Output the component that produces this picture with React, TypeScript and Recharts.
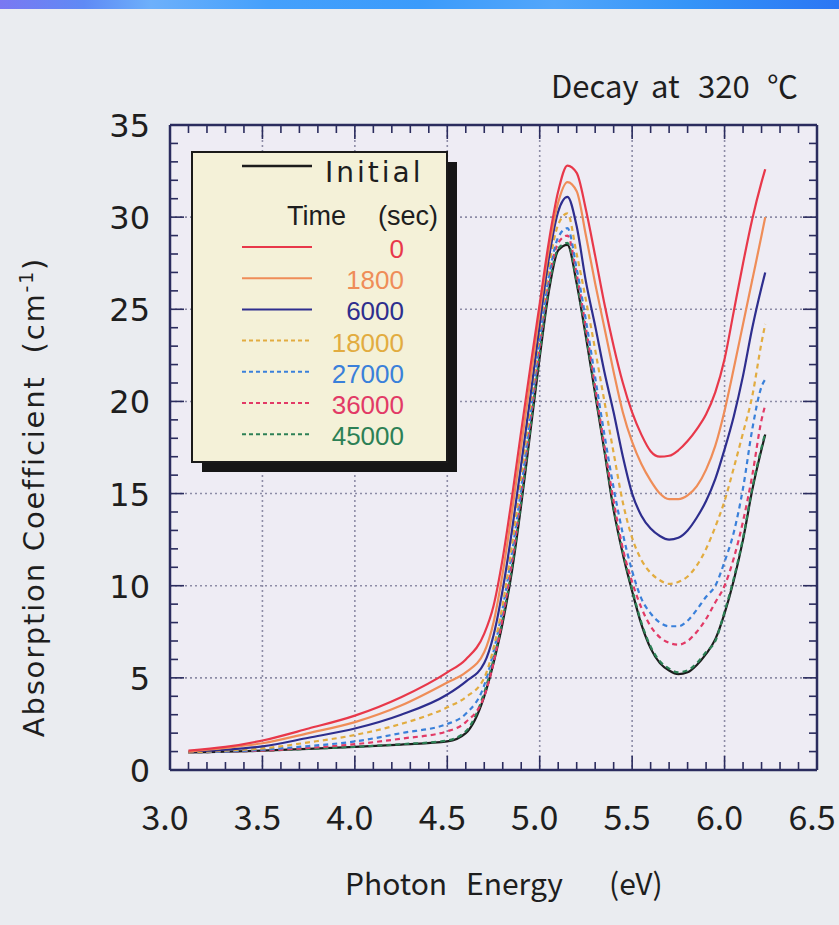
import React from 'react';
import { LineChart, Line, XAxis, YAxis, CartesianGrid } from 'recharts';

// ---- data ----
const energy = [3.1, 3.3, 3.5, 3.75, 4.0, 4.25, 4.5, 4.6, 4.7, 4.75, 4.8, 4.85, 4.9, 4.95, 5.0, 5.05, 5.1, 5.15, 5.2, 5.25, 5.3, 5.35, 5.4, 5.45, 5.5, 5.55, 5.6, 5.65, 5.7, 5.75, 5.8, 5.85, 5.9, 5.95, 6.0, 6.05, 6.1, 6.15, 6.2, 6.22];

const initial = [0.95, 1.0, 1.05, 1.15, 1.25, 1.38, 1.55, 2.0, 4.0, 5.8, 8.0, 10.8, 14.4, 18.4, 22.4, 26.0, 28.2, 28.5, 26.4, 23.5, 20.4, 17.3, 14.1, 11.7, 9.7, 7.9, 6.6, 5.8, 5.4, 5.2, 5.3, 5.7, 6.3, 7.1, 8.5, 10.3, 12.5, 15.2, 17.4, 18.2];
const t0 = [1.05, 1.25, 1.6, 2.25, 2.95, 3.95, 5.3, 6.0, 7.4, 8.9, 11.5, 14.8, 18.4, 21.9, 25.3, 28.7, 31.4, 32.8, 32.4, 30.4, 27.9, 25.3, 23.0, 21.0, 19.4, 18.2, 17.3, 17.0, 17.05, 17.35, 17.85, 18.5, 19.3, 20.5, 22.3, 24.9, 27.5, 29.9, 31.9, 32.6];
const t1800 = [1.0, 1.2, 1.45, 2.0, 2.6, 3.5, 4.75, 5.3, 6.4, 8.0, 10.7, 14.0, 17.6, 21.2, 24.9, 28.3, 30.8, 31.9, 31.4, 29.0, 26.4, 24.0, 21.6, 19.4, 17.8, 16.6, 15.7, 15.0, 14.7, 14.7, 14.9, 15.4, 16.3, 17.6, 19.5, 21.8, 24.2, 26.6, 29.0, 30.0];
const t6000 = [1.0, 1.1, 1.28, 1.75, 2.25, 3.0, 4.1, 4.8, 5.8, 7.3, 9.8, 13.0, 16.6, 20.3, 24.2, 27.8, 30.3, 31.1, 29.5, 26.5, 24.1, 21.6, 19.4, 17.0, 15.0, 13.8, 13.1, 12.7, 12.5, 12.6, 13.0, 13.7, 14.6, 15.8, 17.4, 19.2, 21.4, 24.0, 26.2, 27.0];
const t18000 = [0.95, 1.05, 1.17, 1.5, 1.9, 2.5, 3.4, 3.95, 5.0, 6.6, 9.0, 12.2, 15.9, 19.8, 23.8, 27.3, 29.6, 30.2, 28.0, 25.5, 22.8, 20.0, 17.2, 14.5, 12.6, 11.4, 10.7, 10.3, 10.1, 10.2, 10.5, 11.1, 12.0, 13.2, 14.6, 16.4, 18.3, 20.3, 23.2, 24.2];
const t27000 = [0.95, 1.0, 1.1, 1.3, 1.55, 2.0, 2.5, 3.05, 4.6, 6.4, 8.8, 11.8, 15.3, 19.3, 23.3, 26.8, 28.9, 29.4, 27.2, 24.4, 21.3, 18.2, 15.3, 12.8, 10.8, 9.3, 8.5, 8.0, 7.8, 7.8, 8.1, 8.7, 9.4, 10.0, 11.3, 12.9, 15.3, 18.5, 20.8, 21.2];
const t36000 = [0.95, 1.0, 1.05, 1.2, 1.4, 1.7, 2.1, 2.6, 4.0, 5.8, 8.3, 11.3, 15.0, 19.0, 23.0, 26.6, 28.6, 29.0, 26.9, 24.0, 20.8, 17.6, 14.6, 12.0, 10.2, 8.8, 7.8, 7.2, 6.9, 6.8, 7.0, 7.5, 8.2, 9.1, 10.0, 11.5, 13.5, 16.0, 19.0, 19.8];
const t45000 = [0.95, 1.0, 1.04, 1.15, 1.26, 1.4, 1.6, 2.1, 4.2, 6.0, 8.2, 11.0, 14.6, 18.6, 22.6, 26.2, 28.3, 28.6, 26.5, 23.6, 20.5, 17.4, 14.2, 11.8, 9.8, 8.0, 6.7, 5.9, 5.5, 5.3, 5.4, 5.8, 6.4, 7.0, 8.6, 10.4, 12.6, 15.3, 17.5, 18.3];

const xMajorTicks = [3.0, 3.5, 4.0, 4.5, 5.0, 5.5, 6.0, 6.5];
const yMajorTicks = [0, 5, 10, 15, 20, 25, 30, 35];
const xMinorTicks = Array.from({ length: 36 }, (_, i) => Math.round((3.0 + i * 0.1) * 10) / 10);
const yMinorTicks = Array.from({ length: 36 }, (_, i) => i);

const series = [
  { key: 'initial', label: 'Initial', values: initial, color: '#1c1c1c', dash: undefined as string | undefined },
  { key: 't45000', label: '45000', values: t45000, color: '#2c8055', dash: '5 4' },
  { key: 't36000', label: '36000', values: t36000, color: '#e23a66', dash: '5 4' },
  { key: 't27000', label: '27000', values: t27000, color: '#3a80da', dash: '5 4' },
  { key: 't18000', label: '18000', values: t18000, color: '#e2ac40', dash: '5 4' },
  { key: 't6000', label: '6000', values: t6000, color: '#2e2e8e', dash: undefined },
  { key: 't1800', label: '1800', values: t1800, color: '#ef8d58', dash: undefined },
  { key: 't0', label: '0', values: t0, color: '#e8384a', dash: undefined },
];
const legendOrder = ['t0', 't1800', 't6000', 't18000', 't27000', 't36000', 't45000'];

const data = energy.map((e, i) => {
  const row: Record<string, number> = { e };
  series.forEach((s) => { row[s.key] = s.values[i]; });
  return row;
});

// ---- styles ----
const FRAME = '#2b2c5e';
const CJK = '"Noto Sans CJK JP", "Noto Sans", sans-serif';
const DEJAVU = '"DejaVu Sans", sans-serif';
const LIB = '"Liberation Sans", Arial, sans-serif';
const TEXT = '#1e1e1e';

const isMajor = (v: number, step: number) => Math.abs(v / step - Math.round(v / step)) < 1e-6;

const BottomTick = (props: any) => {
  const { x, y, payload } = props;
  const v = payload.value as number;
  const major = isMajor(v, 0.5);
  return (
    <g>
      <line x1={x} y1={y} x2={x} y2={y - (major ? 14 : 8)} stroke={FRAME} strokeWidth={1.6} />
      {major && (
        <text x={x - 5} y={y + 60} textAnchor="middle" fontFamily={CJK} fontSize={34} fill={TEXT}>
          {v.toFixed(1)}
        </text>
      )}
    </g>
  );
};

const TopTick = (props: any) => {
  const { x, y, payload } = props;
  const major = isMajor(payload.value, 0.5);
  return <line x1={x} y1={y} x2={x} y2={y + (major ? 14 : 8)} stroke={FRAME} strokeWidth={1.6} />;
};

const LeftTick = (props: any) => {
  const { x, y, payload } = props;
  const v = payload.value as number;
  const major = isMajor(v, 5);
  return (
    <g>
      <line x1={x} y1={y} x2={x + (major ? 14 : 8)} y2={y} stroke={FRAME} strokeWidth={1.6} />
      {major && (
        <text x={x - 20} y={y + 12} textAnchor="end" fontFamily={DEJAVU} fontSize={32} fill={TEXT}>
          {v}
        </text>
      )}
    </g>
  );
};

const RightTick = (props: any) => {
  const { x, y, payload } = props;
  const major = isMajor(payload.value, 5);
  return <line x1={x} y1={y} x2={x - (major ? 14 : 8)} y2={y} stroke={FRAME} strokeWidth={1.6} />;
};

const Overlay = () => {
  const rowBase = 258;
  const rowStep = 31.2;
  const byKey: Record<string, (typeof series)[number]> = {};
  series.forEach((s) => { byKey[s.key] = s; });
  return (
    <svg width={839} height={925} style={{ position: 'absolute', left: 0, top: 0, pointerEvents: 'none' }}>
      {/* title */}
      <text fontFamily={CJK} fontSize={31} fill={TEXT} y={98}>
        <tspan x={551}>Decay</tspan>
        <tspan x={651}>at</tspan>
        <tspan x={698}>320</tspan>
        <tspan x={767}>℃</tspan>
      </text>
      {/* y label */}
      <text
        transform="rotate(-90 44 497)"
        x={44}
        y={497}
        textAnchor="middle"
        fontFamily={DEJAVU}
        fontSize={29}
        letterSpacing={1.8}
        fill={TEXT}
        style={{ whiteSpace: 'pre' }}
      >
        Absorption Coefficient  (cm<tspan dy={-11} fontSize={19}>-1</tspan><tspan dy={11}>)</tspan>
      </text>
      {/* x label */}
      <text fontFamily={CJK} fontSize={30} fill={TEXT} y={895}>
        <tspan x={345}>Photon</tspan>
        <tspan x={466}>Energy</tspan>
        <tspan x={609}>(eV)</tspan>
      </text>
      {/* legend */}
      <rect x={202} y={162} width={255} height={310} fill="#161616" />
      <rect x={192} y={152} width={255} height={310} fill="#f4f1d8" stroke="#1a1a1a" strokeWidth={2} />
      <line x1={242} y1={166} x2={312} y2={166} stroke={byKey.initial.color} strokeWidth={2.4} />
      <text x={325} y={182} fontFamily={DEJAVU} fontSize={28} letterSpacing={3} fill={TEXT}>Initial</text>
      <text x={287} y={225} fontFamily={LIB} fontSize={27} fill={TEXT}>Time</text>
      <text x={438} y={225} textAnchor="end" fontFamily={LIB} fontSize={27} fill={TEXT}>(sec)</text>
      {legendOrder.map((k, i) => {
        const s = byKey[k];
        const by = rowBase + i * rowStep;
        return (
          <g key={k}>
            <line x1={242} y1={by - 11} x2={312} y2={by - 11} stroke={s.color} strokeWidth={2} strokeDasharray={s.dash ? '4 3' : undefined} />
            <text x={404} y={by} textAnchor="end" fontFamily={LIB} fontSize={26} fill={s.color}>{s.label}</text>
          </g>
        );
      })}
    </svg>
  );
};

export default function App() {
  return (
    <div style={{ position: 'absolute', left: 0, top: 0, width: 839, height: 925, background: '#eaecf0', overflow: 'hidden' }}>
      <div style={{ position: 'absolute', left: 0, top: 0, width: 839, height: 9, background: 'linear-gradient(90deg, #7a78f2 0%, #5f8af5 10%, #6db0fb 18%, #44a0fc 32%, #3b9bfb 50%, #52a6fb 66%, #3494f8 82%, #2b76f4 100%)' }} />
      <LineChart width={839} height={925} data={data} margin={{ top: 124, right: 21, bottom: 154, left: 169 }}>
        <CartesianGrid
          fill="#eeecf4"
          stroke="#8d8ca6"
          strokeWidth={1.6}
          strokeDasharray="2 3"
          horizontalValues={yMajorTicks}
          verticalValues={xMajorTicks}
        />
        <XAxis
          dataKey="e"
          type="number"
          domain={[3.0, 6.5]}
          ticks={xMinorTicks}
          interval={0}
          height={1}
          tickSize={0}
          tickMargin={0}
          tickLine={false}
          tick={<BottomTick />}
          axisLine={{ stroke: FRAME, strokeWidth: 2.5 }}
          allowDataOverflow
        />
        <XAxis
          xAxisId="top"
          orientation="top"
          dataKey="e"
          type="number"
          domain={[3.0, 6.5]}
          ticks={xMinorTicks}
          interval={0}
          height={1}
          tickSize={0}
          tickMargin={0}
          tickLine={false}
          tick={<TopTick />}
          axisLine={{ stroke: FRAME, strokeWidth: 2.5 }}
          allowDataOverflow
        />
        <YAxis
          type="number"
          domain={[0, 35]}
          ticks={yMinorTicks}
          interval={0}
          width={1}
          tickSize={0}
          tickMargin={0}
          tickLine={false}
          tick={<LeftTick />}
          axisLine={{ stroke: FRAME, strokeWidth: 2.5 }}
          allowDataOverflow
        />
        <YAxis
          yAxisId="right"
          orientation="right"
          type="number"
          domain={[0, 35]}
          ticks={yMinorTicks}
          interval={0}
          width={1}
          tickSize={0}
          tickMargin={0}
          tickLine={false}
          tick={<RightTick />}
          axisLine={{ stroke: FRAME, strokeWidth: 2.5 }}
          allowDataOverflow
        />
        {series.map((s) => (
          <Line
            key={s.key}
            dataKey={s.key}
            type="monotone"
            stroke={s.color}
            strokeWidth={2.2}
            strokeDasharray={s.dash}
            dot={false}
            activeDot={false}
            isAnimationActive={false}
          />
        ))}
      </LineChart>
      <Overlay />
    </div>
  );
}
